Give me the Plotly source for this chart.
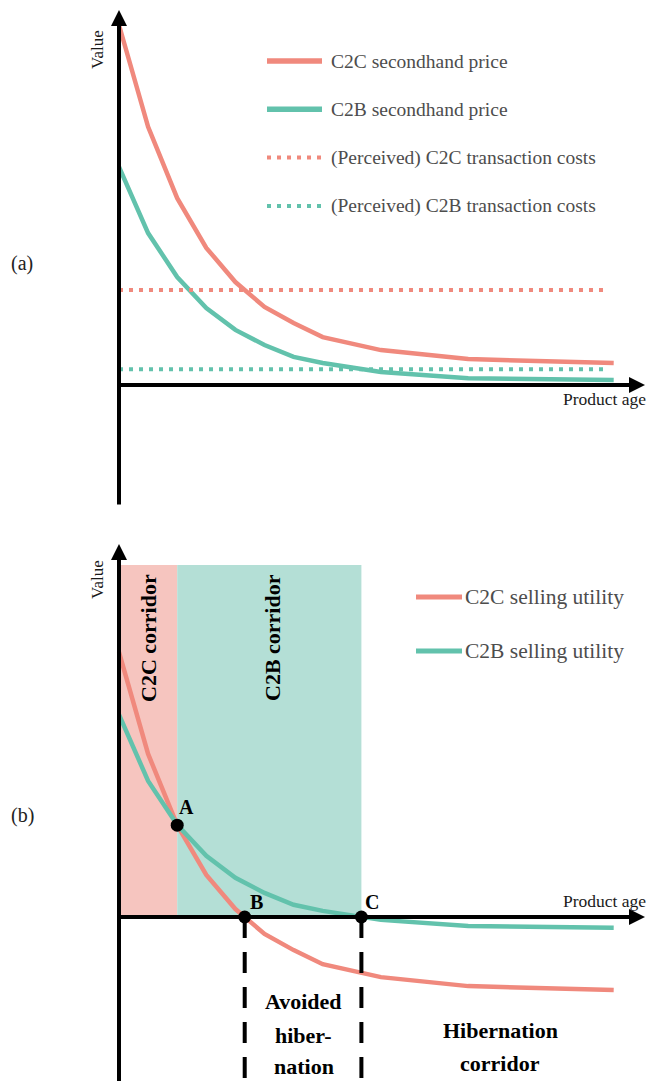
import plotly.graph_objects as go

# ---------------- data ----------------
age = [0, 1, 2, 3, 4, 5, 6, 7, 9, 12, 17]

# panel (a): prices and perceived transaction costs
c2c_price = [100, 71.7, 51.9, 38.1, 28.6, 21.7, 17.2, 13.3, 9.7, 7.2, 6.1]
c2b_price = [60.6, 42.2, 30.0, 21.4, 15.3, 11.1, 7.8, 6.1, 3.6, 1.9, 1.4]
c2c_cost = 26.4
c2b_cost = 4.4
cost_age_range = [0, 16.7]

# panel (b): selling utilities
c2c_utility = [73.6, 45.3, 25.5, 11.7, 2.2, -4.7, -9.2, -13.1, -16.7, -19.2, -20.3]
c2b_utility = [56.2, 37.8, 25.6, 17.0, 10.9, 6.7, 3.4, 1.7, -0.8, -2.5, -3.0]

point_labels = ["A", "B", "C"]
point_age = [2.0, 4.32, 8.33]
point_value = [25.5, 0.0, 0.0]

legend_a = ["C2C secondhand price", "C2B secondhand price",
            "(Perceived) C2C transaction costs", "(Perceived) C2B transaction costs"]
legend_b = ["C2C selling utility", "C2B selling utility"]

# ---------------- styling / layout helpers ----------------
W, H = 646, 1081
RED = "#F0897D"
TEAL = "#62C2AC"
RED_SHADE = "#F6C5BF"
TEAL_SHADE = "#B4DFD6"
SERIF = "Liberation Serif"
PX_PER_AGE = 29.1
PX_PER_VAL = 3.6
X0_PX = 119
SPLIT_PX = 520
YA0_PX = 385   # value 0 in panel (a)
YB0_PX = 917   # value 0 in panel (b)


def px(x):
    return x / W


def py(y):
    return 1 - y / H


def age_at(xpx):
    return (xpx - X0_PX) / PX_PER_AGE


def va(ypx):
    return (YA0_PX - ypx) / PX_PER_VAL


def vb(ypx):
    return (YB0_PX - ypx) / PX_PER_VAL


fig = go.Figure()

# panel (a) traces
fig.add_trace(go.Scatter(x=age, y=c2c_price, mode="lines", line=dict(color=RED, width=4.5),
                         xaxis="x", yaxis="y", showlegend=False))
fig.add_trace(go.Scatter(x=age, y=c2b_price, mode="lines", line=dict(color=TEAL, width=4.5),
                         xaxis="x", yaxis="y", showlegend=False))
fig.add_trace(go.Scatter(x=cost_age_range, y=[c2c_cost, c2c_cost], mode="lines",
                         line=dict(color=RED, width=4, dash="4px,6px"),
                         xaxis="x", yaxis="y", showlegend=False))
fig.add_trace(go.Scatter(x=cost_age_range, y=[c2b_cost, c2b_cost], mode="lines",
                         line=dict(color=TEAL, width=4, dash="4px,6px"),
                         xaxis="x", yaxis="y", showlegend=False))

# panel (b) traces
fig.add_trace(go.Scatter(x=age, y=c2c_utility, mode="lines", line=dict(color=RED, width=4.5),
                         xaxis="x2", yaxis="y2", showlegend=False))
fig.add_trace(go.Scatter(x=age, y=c2b_utility, mode="lines", line=dict(color=TEAL, width=4.5),
                         xaxis="x2", yaxis="y2", showlegend=False))
# dashed boundaries at B and C
for xb in point_age[1:]:
    fig.add_trace(go.Scatter(x=[xb, xb], y=[0, vb(H + 5)], mode="lines",
                             line=dict(color="black", width=4, dash="21px,14px"),
                             xaxis="x2", yaxis="y2", showlegend=False))
fig.add_trace(go.Scatter(x=point_age, y=point_value, mode="markers",
                         marker=dict(color="black", size=13),
                         xaxis="x2", yaxis="y2", showlegend=False, cliponaxis=False))

shapes = []
annotations = []

# corridor shading
shade_top = vb(565)
shapes.append(dict(type="rect", xref="x2", yref="y2", x0=0, x1=point_age[0], y0=0, y1=shade_top,
                   fillcolor=RED_SHADE, line=dict(width=0), layer="below"))
shapes.append(dict(type="rect", xref="x2", yref="y2", x0=point_age[0], x1=point_age[2], y0=0,
                   y1=shade_top, fillcolor=TEAL_SHADE, line=dict(width=0), layer="below"))

# axis arrows
def arrow(xref, yref, x, y, ax, ay):
    annotations.append(dict(xref=xref, yref=yref, axref=xref, ayref=yref, x=x, y=y, ax=ax, ay=ay,
                            text="", showarrow=True, arrowhead=2, arrowsize=0.8, arrowwidth=4,
                            arrowcolor="black", standoff=0))

arrow("x", "y", 0, va(10), 0, va(506))
arrow("x", "y", age_at(645), 0, age_at(117), 0)
arrow("x2", "y2", 0, vb(544), 0, vb(H + 10))
arrow("x2", "y2", age_at(645), 0, age_at(117), 0)

# axis titles
for yc in (50, 580):
    annotations.append(dict(xref="paper", yref="paper", x=px(97), y=py(yc), text="Value",
                            textangle=-90, showarrow=False, xanchor="center", yanchor="middle",
                            font=dict(family=SERIF, size=17, color="#1a1a1a")))
for yc in (399, 901):
    annotations.append(dict(xref="paper", yref="paper", x=px(561), y=py(yc), text="Product age",
                            showarrow=False, xanchor="left", yanchor="middle",
                            font=dict(family=SERIF, size=17.5, color="#1a1a1a")))

# panel labels
annotations.append(dict(xref="paper", yref="paper", x=px(22), y=py(263), text="(a)", showarrow=False,
                        xanchor="center", yanchor="middle", font=dict(family=SERIF, size=20, color="#222")))
annotations.append(dict(xref="paper", yref="paper", x=px(22), y=py(815), text="(b)", showarrow=False,
                        xanchor="center", yanchor="middle", font=dict(family=SERIF, size=20, color="#222")))

# legend (a)
leg_a_colors = [RED, TEAL, RED, TEAL]
leg_a_dash = ["solid", "solid", "4px,6px", "4px,6px"]
for i, (lab, col, dsh) in enumerate(zip(legend_a, leg_a_colors, leg_a_dash)):
    yc = 61 + i * 48.3
    shapes.append(dict(type="line", xref="paper", yref="paper", x0=px(267), x1=px(322),
                       y0=py(yc), y1=py(yc), line=dict(color=col, width=5.5 if dsh == "solid" else 4, dash=dsh)))
    annotations.append(dict(xref="paper", yref="paper", x=px(329), y=py(yc), text=lab, showarrow=False,
                            xanchor="left", yanchor="middle",
                            font=dict(family=SERIF, size=19.5, color="#4d4d4d")))

# legend (b)
for i, (lab, col) in enumerate(zip(legend_b, [RED, TEAL])):
    yc = 597 + i * 54
    shapes.append(dict(type="line", xref="paper", yref="paper", x0=px(416), x1=px(462),
                       y0=py(yc), y1=py(yc), line=dict(color=col, width=5)))
    annotations.append(dict(xref="paper", yref="paper", x=px(463), y=py(yc), text=lab, showarrow=False,
                            xanchor="left", yanchor="middle",
                            font=dict(family=SERIF, size=21.5, color="#4d4d4d")))

# point labels A, B, C
lab_offsets = [(186, 807), (256, 902), (372, 902)]
for lab, (lx, ly) in zip(point_labels, lab_offsets):
    annotations.append(dict(xref="paper", yref="paper", x=px(lx), y=py(ly), text="<b>%s</b>" % lab,
                            showarrow=False, xanchor="center", yanchor="middle",
                            font=dict(family=SERIF, size=20, color="black")))

# corridor texts
annotations.append(dict(xref="paper", yref="paper", x=px(148), y=py(638), text="<b>C2C corridor</b>",
                        textangle=-90, showarrow=False, xanchor="center", yanchor="middle",
                        font=dict(family=SERIF, size=22, color="black")))
annotations.append(dict(xref="paper", yref="paper", x=px(272), y=py(638), text="<b>C2B corridor</b>",
                        textangle=-90, showarrow=False, xanchor="center", yanchor="middle",
                        font=dict(family=SERIF, size=22, color="black")))
for txt, yc in [("Avoided", 1001), ("hiber-", 1035), ("nation", 1066)]:
    annotations.append(dict(xref="paper", yref="paper", x=px(303.5), y=py(yc), text="<b>%s</b>" % txt,
                            showarrow=False, xanchor="center", yanchor="middle",
                            font=dict(family=SERIF, size=22, color="black")))
for txt, yc in [("Hibernation", 1030), ("corridor", 1063)]:
    annotations.append(dict(xref="paper", yref="paper", x=px(500.5), y=py(yc), text="<b>%s</b>" % txt,
                            showarrow=False, xanchor="center", yanchor="middle",
                            font=dict(family=SERIF, size=22, color="black")))

xrange = [age_at(0), age_at(W)]
fig.update_layout(
    width=W, height=H, margin=dict(l=0, r=0, t=0, b=0),
    paper_bgcolor="white", plot_bgcolor="rgba(0,0,0,0)",
    showlegend=False,
    font=dict(family=SERIF),
    xaxis=dict(domain=[0, 1], range=xrange, visible=False, fixedrange=True),
    yaxis=dict(domain=[1 - SPLIT_PX / H, 1], range=[va(SPLIT_PX), va(0)], visible=False, fixedrange=True),
    xaxis2=dict(domain=[0, 1], range=xrange, visible=False, anchor="y2", fixedrange=True),
    yaxis2=dict(domain=[0, 1 - SPLIT_PX / H], range=[vb(H), vb(SPLIT_PX)], visible=False, anchor="x2",
                fixedrange=True),
    shapes=shapes, annotations=annotations,
)

fig.write_html("out.html")
